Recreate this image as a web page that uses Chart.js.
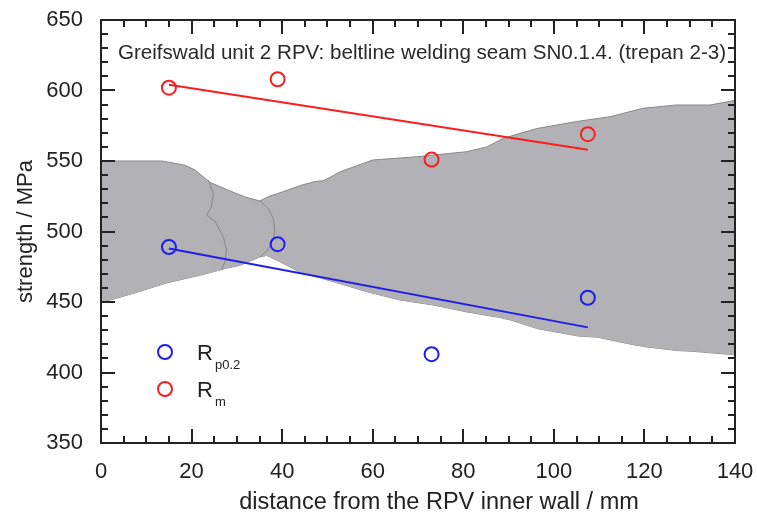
<!DOCTYPE html>
<html>
<head>
<meta charset="utf-8">
<script src="https://cdn.jsdelivr.net/npm/chart.js@4.4.1/dist/chart.umd.min.js"></script>
<style>
  html, body { margin: 0; padding: 0; background: #fff; }
  #wrap { width: 757px; height: 514px; }
</style>
</head>
<body>
<div id="wrap"><canvas id="chart" width="757" height="514"></canvas></div>
<script>
// Greifswald unit 2 RPV, beltline weld SN0.1.4 (trepan 2-3)

// measured points (distance / mm, strength / MPa)
var distances = [15, 39, 73, 107.5];
var rp02 = [489, 491, 413, 453];
var rm = [602, 608, 551, 569];

// linear fits at both ends
var fitX = [15, 107.5];
var rp02Fit = [488, 432];
var rmFit = [604, 558];

// weld cross-section outline drawn behind the data
var weldTopX = [0, 13.5, 18.5, 20.8, 24, 28, 31.8, 35.1, 36.9, 40, 44.4, 47.3, 49, 50.6, 52.8, 60, 69.7, 80.7, 85.2, 88.8, 92.5, 96.2, 105, 112.4, 119.7, 127, 134.5, 140];
var weldTopY = [550, 550, 547, 543.6, 535, 529.4, 524.5, 521.6, 524.7, 528, 533, 535.5, 536, 538.4, 542.4, 550.7, 553, 556.6, 560, 566, 569.6, 573, 578, 581.4, 587.4, 589.7, 589.7, 593];
var weldBottomX = [0, 2, 7, 14.5, 21.9, 27.8, 30.7, 35.1, 36.6, 39.5, 44, 51.2, 58.7, 66, 73.3, 80.7, 88, 90.5, 96.5, 105.3, 109.7, 116, 120, 123.4, 127.4, 130.7, 140];
var weldBottomY = [450, 451.4, 456, 463.5, 469, 474, 476, 482, 483, 478.6, 471, 464.5, 457.3, 451.4, 447.9, 443, 439, 437.2, 431, 425.9, 425, 420.7, 418.3, 417, 415.5, 415, 412.5];
var fusionLeftX = [23.7, 24.8, 24.4, 23.3, 25.2, 27, 27.7, 27.4, 26.6];
var fusionLeftY = [536.5, 527, 517.6, 511.7, 507, 496.3, 487, 478.6, 472.7];
var fusionRightX = [35.1, 36.9, 38, 38.4, 38, 36.9, 35.1];
var fusionRightY = [521.6, 516.5, 509.4, 501, 494, 486.9, 482];

// axes
var xMin = 0, xMax = 140, xStep = 20, xMinor = 5;
var yMin = 350, yMax = 650, yStep = 50, yMinor = 10;

var COLORS = {
  red: 'rgb(250,30,30)',
  blue: 'rgb(30,30,235)',
  weld: 'rgb(178,178,182)',
  weldEdge: 'rgb(135,135,138)',
  ink: '#222',
  font: "'Liberation Sans', Arial, sans-serif"
};

function pts(xs, ys) {
  return xs.map(function (x, i) { return { x: x, y: ys[i] }; });
}

function lineSet(xs, ys, color, width, order) {
  return {
    data: pts(xs, ys), showLine: true, borderColor: color, borderWidth: width,
    pointRadius: 0, fill: false, order: order, tension: 0
  };
}

function pointSet(xs, ys, color) {
  return {
    data: pts(xs, ys), showLine: false, pointStyle: 'circle', pointRadius: 7,
    pointBorderWidth: 2, borderColor: color, backgroundColor: 'rgba(0,0,0,0)', order: 1
  };
}

// keep the plot box where the layout padding puts it
function noScalePadding(s) {
  s.paddingTop = 0; s.paddingBottom = 0; s.paddingLeft = 0; s.paddingRight = 0;
}

var weldTop = lineSet(weldTopX, weldTopY, COLORS.weldEdge, 1, 6);
weldTop.fill = '+1';
weldTop.backgroundColor = COLORS.weld;
var weldBottom = lineSet(weldBottomX, weldBottomY, COLORS.weldEdge, 1, 6);

// frame with inward ticks on all four sides
var framePlugin = {
  id: 'frame',
  afterDatasetsDraw: function (chart) {
    var ctx = chart.ctx, a = chart.chartArea;
    var xs = chart.scales.x, ys = chart.scales.y;
    ctx.save();
    ctx.strokeStyle = COLORS.ink;
    ctx.lineWidth = 2;
    ctx.beginPath();
    var v, len, p;
    for (v = xMin; v <= xMax; v += xMinor) {
      p = Math.round(xs.getPixelForValue(v));
      len = v % xStep === 0 ? 14 : 7;
      ctx.moveTo(p, a.bottom); ctx.lineTo(p, a.bottom - len);
      ctx.moveTo(p, a.top); ctx.lineTo(p, a.top + len);
    }
    for (v = yMin; v <= yMax; v += yMinor) {
      p = Math.round(ys.getPixelForValue(v));
      len = v % yStep === 0 ? 14 : 7;
      ctx.moveTo(a.left, p); ctx.lineTo(a.left + len, p);
      ctx.moveTo(a.right, p); ctx.lineTo(a.right - len, p);
    }
    ctx.stroke();
    ctx.strokeRect(a.left, a.top, a.right - a.left, a.bottom - a.top);
    ctx.restore();
  }
};

// title inside the plot, x-axis title (sits right of centre) and the legend with subscripts
var notesPlugin = {
  id: 'notes',
  afterDraw: function (chart) {
    var ctx = chart.ctx, a = chart.chartArea;
    ctx.save();
    ctx.fillStyle = '#2a2a2a';
    ctx.font = '20.6px ' + COLORS.font;
    ctx.textAlign = 'center';
    ctx.textBaseline = 'middle';
    ctx.fillText('Greifswald unit 2 RPV: beltline welding seam SN0.1.4. (trepan 2-3)', (a.left + a.right) / 2 + 4, a.top + 33);

    ctx.fillStyle = COLORS.ink;
    ctx.font = '23.5px ' + COLORS.font;
    ctx.fillText('distance from the RPV inner wall / mm', (a.left + a.right) / 2 + 21, a.bottom + 60);

    var entries = [
      { color: COLORS.blue, sub: 'p0.2', y: a.top + 332 },
      { color: COLORS.red, sub: 'm', y: a.top + 369 }
    ];
    entries.forEach(function (e) {
      var cx = a.left + 64;
      ctx.beginPath();
      ctx.strokeStyle = e.color;
      ctx.lineWidth = 2;
      ctx.arc(cx, e.y, 7, 0, Math.PI * 2);
      ctx.stroke();
      ctx.fillStyle = '#222';
      ctx.textAlign = 'left';
      ctx.textBaseline = 'alphabetic';
      ctx.font = '22px ' + COLORS.font;
      ctx.fillText('R', cx + 32, e.y + 8);
      ctx.font = '13px ' + COLORS.font;
      ctx.fillText(e.sub, cx + 50, e.y + 17);
    });
    ctx.restore();
  }
};

new Chart(document.getElementById('chart'), {
  type: 'scatter',
  data: {
    datasets: [
      pointSet(distances, rp02, COLORS.blue),
      pointSet(distances, rm, COLORS.red),
      lineSet(fitX, rp02Fit, COLORS.blue, 2, 2),
      lineSet(fitX, rmFit, COLORS.red, 2, 2),
      lineSet(fusionLeftX, fusionLeftY, COLORS.weldEdge, 1, 4),
      lineSet(fusionRightX, fusionRightY, COLORS.weldEdge, 1, 4),
      weldTop,
      weldBottom
    ]
  },
  plugins: [framePlugin, notesPlugin],
  options: {
    responsive: false,
    animation: false,
    events: [],
    layout: { padding: { top: 20, right: 22, left: 0, bottom: 0 } },
    plugins: { legend: { display: false }, tooltip: { enabled: false } },
    scales: {
      x: {
        type: 'linear', min: xMin, max: xMax,
        grid: { display: false, drawTicks: false },
        border: { display: false },
        ticks: { stepSize: xStep, padding: 16, color: COLORS.ink, font: { family: COLORS.font, size: 22 } },
        afterFit: function (s) { s.height = 71; noScalePadding(s); }
      },
      y: {
        type: 'linear', min: yMin, max: yMax,
        grid: { display: false, drawTicks: false },
        border: { display: false },
        ticks: { stepSize: yStep, padding: 18, color: COLORS.ink, font: { family: COLORS.font, size: 22 } },
        title: { display: true, text: 'strength / MPa', color: COLORS.ink,
          font: { family: COLORS.font, size: 22 }, padding: { top: 13, bottom: 0 } },
        afterFit: function (s) { s.width = 101; noScalePadding(s); }
      }
    }
  }
});
</script>
</body>
</html>
